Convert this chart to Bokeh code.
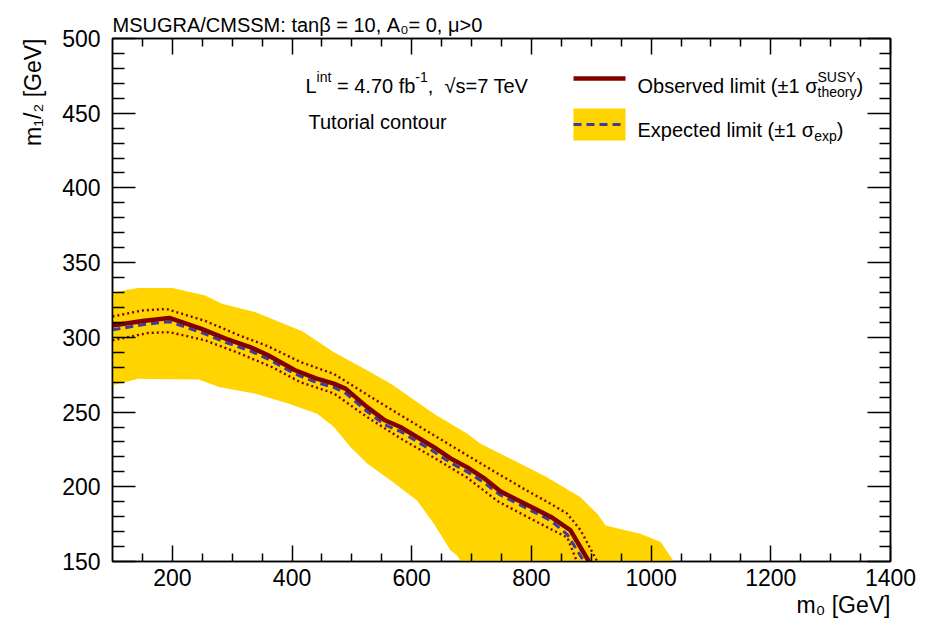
import math
from bokeh.plotting import figure
from bokeh.models import (Label, Arrow, BoxAnnotation, LinearAxis, FixedTicker,
                          Range1d, Title, CustomLabelingPolicy, CustomJSTickFormatter)
from bokeh.embed import file_html
from bokeh.resources import INLINE

# ---------------- data (m0 [GeV], m1/2 [GeV]) ----------------
obs_m0 = [100, 150, 195, 250, 290, 330, 360, 405, 440, 470, 490, 525, 555, 581,
          610, 637, 665, 693, 720, 748, 790, 832, 865, 896]
obs_m12 = [308, 311, 313, 305.5, 299, 293.5, 288, 278, 272.5, 269, 265.5, 253.5,
           244.5, 240, 233, 226.5, 219, 213, 206, 197, 188.5, 180, 171, 150]

exp_m0 = [100, 150, 195, 250, 290, 330, 360, 405, 440, 470, 490, 525, 555, 581,
          610, 637, 665, 693, 720, 748, 790, 832, 860, 888]
exp_m12 = [305, 308.5, 310.5, 303, 296.5, 291, 285.5, 275.5, 270, 266.5, 262.5,
           250.5, 241.5, 237, 230, 223.5, 216, 210, 203, 194.5, 186, 177.5, 168, 150]

theo_up_m0 = [100, 150, 190, 255, 311, 360, 414, 470, 526, 581, 637, 693, 743,
              790, 826, 860, 882, 910]
theo_up_m12 = [314, 318, 319, 311, 301.5, 294, 283.5, 275.5, 261.5, 248, 234.5,
               221, 209, 198, 190, 182, 171, 150]

theo_dn_m0 = [100, 160, 195, 255, 311, 367, 414, 470, 526, 581, 637, 693, 743,
              790, 826, 860, 876]
theo_dn_m12 = [298, 303, 303.5, 298, 289.5, 280, 270, 262.5, 246.5, 232.5, 219.5,
               206, 190.5, 180.5, 173, 166, 150]

band_up_m0 = [100, 143, 200, 255, 283, 339, 418, 470, 526, 565, 637, 693, 715,
              771, 826, 882, 910, 924, 982, 1016, 1038]
band_up_m12 = [330, 333, 333, 328, 322.5, 316.8, 304, 290, 277.8, 268.9, 248.9,
               235.5, 228.8, 217.6, 206.4, 193, 181.9, 174.1, 168.6, 163, 150]

band_dn_m0 = [100, 143, 200, 244, 278, 339, 395, 442, 470, 498, 526, 565, 609,
              637, 665, 676, 682]
band_dn_m12 = [268, 272.3, 272, 271.8, 266.7, 262.2, 255.5, 248.8, 240, 226.5,
               215.4, 204.2, 190.8, 175.2, 157.3, 154, 150]

x_major = [200, 400, 600, 800, 1000, 1200, 1400]
x_minor = [150, 250, 300, 350, 450, 500, 550, 650, 700, 750, 850, 900, 950,
           1050, 1100, 1150, 1250, 1300, 1350]
y_major = [150, 200, 250, 300, 350, 400, 450, 500]
y_minor = [v for v in range(160, 500, 10) if v % 50 != 0]

# ---------------- style ----------------
FONT = "Liberation Sans"
YELLOW = "#FFD400"
RED = "#820000"
BLUE = "#3C3C9E"

W, H = 930, 626
BL, BT, BR, BB = 112, 38, 40, 65
FX0 = BL          # frame left (canvas px)
FY1 = H - BB      # frame bottom (canvas px)

p = figure(width=W, height=H, x_range=Range1d(100, 1400), y_range=Range1d(150, 500),
           output_backend="svg", toolbar_location=None,
           x_axis_location=None, y_axis_location=None,
           min_border_left=BL, min_border_right=BR, min_border_top=BT, min_border_bottom=BB)
p.grid.visible = False
p.outline_line_color = "black"
p.outline_line_width = 1.5
p.background_fill_color = "white"
p.border_fill_color = "white"


def make_axis(ticks, minors, tin, tmin, labels=True, standoff=8):
    ax = LinearAxis(ticker=FixedTicker(ticks=ticks, minor_ticks=minors),
                    major_tick_in=tin, major_tick_out=0,
                    minor_tick_in=tmin, minor_tick_out=0,
                    axis_line_width=1.5, axis_line_color="black",
                    major_tick_line_width=1.5, minor_tick_line_width=1.5,
                    major_tick_line_color="black", minor_tick_line_color="black",
                    major_label_text_font=FONT,
                    major_label_text_font_size="23px",
                    major_label_text_color="black",
                    major_label_standoff=standoff)
    if not labels:
        # mirrored frame axis: ticks only, no labels at all
        ax.major_label_standoff = 0
        ax.formatter = CustomJSTickFormatter(code="return ''")
        ax.major_label_policy = CustomLabelingPolicy(code="return []")
    return ax


p.add_layout(make_axis(x_major, x_minor, 16, 8, True, 7), "below")
p.add_layout(make_axis(x_major, x_minor, 16, 8, False), "above")
p.add_layout(make_axis(y_major, y_minor, 23, 12, True, 12), "left")
p.add_layout(make_axis(y_major, y_minor, 23, 11, False), "right")

# titles outside the frame
p.title.text = "MSUGRA/CMSSM: tanβ = 10, A₀= 0, μ>0"
p.title.align = "left"
p.title.text_font = FONT
p.title.text_font_size = "20px"
p.title.text_font_style = "normal"
p.title.text_color = "black"
p.title.standoff = 6
p.title.offset = 0

p.add_layout(Title(text="m₁/₂ [GeV]", align="right", text_font=FONT,
                   text_font_size="23px", text_font_style="normal",
                   text_color="black", standoff=27), "left")
p.add_layout(Title(text="m₀ [GeV]", align="right", text_font=FONT,
                   text_font_size="23px", text_font_style="normal",
                   text_color="black", standoff=3), "below")

# ---------------- contours ----------------
band_x = band_up_m0 + band_dn_m0[::-1]
band_y = band_up_m12 + band_dn_m12[::-1]
p.patch(band_x, band_y, fill_color=YELLOW, line_color=None)
p.line(theo_up_m0, theo_up_m12, line_color=RED, line_width=2.4, line_dash="2 3")
p.line(theo_dn_m0, theo_dn_m12, line_color=RED, line_width=2.4, line_dash="2 3")
p.line(exp_m0, exp_m12, line_color=BLUE, line_width=3, line_dash="8 5")
p.line(obs_m0, obs_m12, line_color=RED, line_width=4.5)

# ---------------- text helpers (in-frame texts) ----------------
WID = {' ': 278, '(': 333, ')': 333, ',': 278, '-': 333, '.': 278, '/': 278,
       ':': 278, '=': 584, '>': 584, '[': 278, ']': 278, '±': 549, 'β': 575,
       'μ': 576, 'σ': 617, '√': 549,
       'A': 667, 'C': 722, 'E': 667, 'G': 778, 'L': 556, 'M': 833, 'O': 778,
       'R': 722, 'S': 667, 'T': 611, 'U': 722, 'V': 667, 'Y': 667,
       'a': 556, 'b': 556, 'c': 500, 'd': 556, 'e': 556, 'f': 278, 'h': 556,
       'i': 222, 'l': 222, 'm': 833, 'n': 556, 'o': 556, 'p': 556, 'r': 333,
       's': 500, 't': 278, 'u': 556, 'v': 500, 'x': 500, 'y': 500}
for d in "0123456789":
    WID[d] = 556


def tw(s, size):
    return sum(WID.get(c, 556) for c in s) * size / 1000.0


def lab(text, X, Y, size):
    """Place text with its left end at canvas X and baseline at canvas Y."""
    lead = len(text) - len(text.lstrip(" "))
    X += lead * 0.278 * size
    p.add_layout(Label(x=X - FX0, y=FY1 - Y, x_units="screen", y_units="screen",
                       text=text.strip(" "), text_font=FONT,
                       text_font_size=f"{size:.1f}px", text_color="black",
                       text_align="left", text_baseline="alphabetic"))


def rich(parts, X, Y, F):
    x = X
    s = 0.7 * F
    for t, k in parts:
        if k == "n":
            lab(t, x, Y, F)
            x += tw(t, F)
        elif k == "sup":
            lab(t, x, Y - 0.45 * F, s)
            x += tw(t, s)
        elif k == "sub":
            lab(t, x, Y + 0.3 * F, s)
            x += tw(t, s)
        else:  # stacked sup/sub
            a, b = t
            lab(a, x, Y - 0.45 * F, s)
            lab(b, x, Y + 0.3 * F, s)
            x += max(tw(a, s), tw(b, s))
    return x


# info texts
rich([("L", "n"), ("int", "sup"), (" = 4.70 fb", "n"), ("-1", "sup"),
      (",", "n"), ("  √s=7 TeV", "n")], 305, 85, 20)
rich([("Tutorial contour", "n")], 308, 121, 20)

# legend
p.add_layout(Arrow(x_start=573 - FX0, y_start=FY1 - 78, x_end=625 - FX0, y_end=FY1 - 78,
                   start_units="screen", end_units="screen", end=None,
                   line_color=RED, line_width=4.5))
p.add_layout(BoxAnnotation(left=573 - FX0, right=625 - FX0, top=FY1 - 108, bottom=FY1 - 140,
                           left_units="screen", right_units="screen",
                           top_units="screen", bottom_units="screen",
                           fill_color=YELLOW, fill_alpha=1.0, line_color=None))
p.add_layout(Arrow(x_start=573 - FX0, y_start=FY1 - 124, x_end=625 - FX0, y_end=FY1 - 124,
                   start_units="screen", end_units="screen", end=None,
                   line_color=BLUE, line_width=3, line_dash="8 5"))
rich([("Observed limit (±1 σ", "n"), (("SUSY", "theory"), "both"), (")", "n")], 637, 85, 20)
rich([("Expected limit (±1 σ", "n"), ("exp", "sub"), (")", "n")], 637, 129, 20)

open("out.html", "w").write(file_html(p, INLINE))
